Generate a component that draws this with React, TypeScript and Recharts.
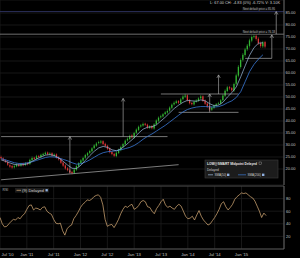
import React from "react";
import {
  ComposedChart,
  Bar,
  Line,
  XAxis,
  YAxis,
  CartesianGrid,
  ReferenceLine,
} from "recharts";

const months = [
  "Jul '10", "Aug '10", "Sep '10", "Oct '10", "Nov '10", "Dec '10",
  "Jan '11", "Feb '11", "Mar '11", "Apr '11", "May '11", "Jun '11",
  "Jul '11", "Aug '11", "Sep '11", "Oct '11", "Nov '11", "Dec '11",
  "Jan '12", "Feb '12", "Mar '12", "Apr '12", "May '12", "Jun '12",
  "Jul '12", "Aug '12", "Sep '12", "Oct '12", "Nov '12", "Dec '12",
  "Jan '13", "Feb '13", "Mar '13", "Apr '13", "May '13", "Jun '13",
  "Jul '13", "Aug '13", "Sep '13", "Oct '13", "Nov '13", "Dec '13",
  "Jan '14", "Feb '14", "Mar '14", "Apr '14", "May '14", "Jun '14",
  "Jul '14", "Aug '14", "Sep '14", "Oct '14", "Nov '14", "Dec '14",
  "Jan '15", "Feb '15", "Mar '15", "Apr '15", "May '15", "Jun '15",
  "Jul '15", "Aug '15", "Sep '15", "Oct '15",
];

const xTickMonths = [
  "Jul '10", "Jan '11", "Jul '11", "Jan '12", "Jul '12",
  "Jan '13", "Jul '13", "Jan '14", "Jul '14", "Jan '15",
];

const priceTicks = [20, 25, 30, 35, 40, 45, 50, 55, 60, 65, 70, 75, 80, 85];
const rsiTicks = [20, 40, 60, 80];

// half-month candles, Jul 2010 .. Jun 2015
const opens = [
  25.0, 24.4, 23.6, 22.8, 21.6, 21.2, 20.7, 21.1, 21.9, 21.4,
  22.2, 21.7, 22.5, 22.1, 23.7, 24.7, 24.3, 25.4, 25.0, 25.8,
  26.2, 26.9, 26.1, 26.6, 25.5, 26.1, 24.9, 24.1, 22.7, 21.5,
  20.3, 19.4, 18.8, 18.4, 19.7, 21.1, 22.5, 23.5, 24.7, 25.7,
  26.7, 27.4, 28.7, 29.7, 30.8, 31.0, 31.6, 30.5, 29.7, 28.5,
  27.1, 26.3, 25.4, 26.7, 27.9, 29.3, 30.3, 31.9, 32.5, 34.0,
  33.1, 35.1, 36.3, 37.7, 38.1, 38.9, 38.5, 37.1, 37.9, 36.9,
  38.7, 40.1, 41.5, 41.9, 42.9, 43.5, 44.3, 45.5, 46.9, 47.5,
  48.3, 47.5, 49.1, 50.1, 50.7, 48.7, 47.5, 46.9, 48.1, 48.5,
  49.5, 50.3, 48.5, 47.3, 46.1, 44.7, 45.5, 46.5, 47.1, 47.3,
  48.7, 50.5, 52.5, 54.1, 53.7, 52.7, 55.5, 58.9, 62.5, 65.5,
  67.5, 69.9, 71.3, 73.5, 75.1, 75.5, 74.3, 72.5, 71.1, 72.9,
];
const closes = [
  24.5, 23.8, 23.0, 21.8, 21.0, 20.6, 21.2, 21.8, 21.3, 22.0,
  21.6, 22.3, 22.0, 23.8, 24.6, 24.2, 25.3, 25.0, 25.9, 26.3,
  26.8, 26.2, 26.5, 25.6, 26.0, 24.8, 24.0, 22.6, 21.4, 20.2,
  19.5, 18.6, 18.3, 19.8, 21.2, 22.4, 23.6, 24.6, 25.8, 26.6,
  27.5, 28.6, 29.8, 30.6, 31.2, 31.5, 30.4, 29.6, 28.4, 27.0,
  26.2, 25.5, 26.8, 28.0, 29.2, 30.4, 31.8, 32.6, 33.8, 33.2,
  35.0, 36.4, 37.6, 38.2, 38.8, 38.4, 37.2, 37.8, 37.0, 38.6,
  40.2, 41.4, 42.0, 42.8, 43.6, 44.2, 45.6, 46.8, 47.6, 48.2,
  47.6, 49.0, 50.2, 50.6, 48.6, 47.4, 47.0, 48.0, 48.6, 49.4,
  50.2, 48.4, 47.2, 46.0, 44.8, 45.6, 46.4, 47.0, 47.4, 48.6,
  50.6, 52.6, 54.0, 53.6, 52.8, 55.4, 59.0, 62.6, 65.4, 67.6,
  69.8, 71.4, 73.6, 75.0, 75.4, 74.2, 72.4, 71.2, 72.8, 71.0,
];
const highs = [
  25.6, 24.9, 24.0, 23.3, 22.1, 21.7, 21.8, 22.4, 22.4, 22.6,
  22.7, 22.9, 23.0, 24.3, 25.2, 25.1, 25.9, 25.9, 26.4, 26.8,
  27.3, 27.3, 27.0, 27.0, 26.5, 26.5, 25.4, 24.5, 23.2, 22.0,
  20.8, 19.9, 19.3, 20.3, 21.7, 22.9, 24.1, 25.1, 26.3, 27.1,
  28.0, 29.1, 30.3, 31.2, 31.8, 32.1, 32.0, 31.0, 30.1, 29.0,
  27.5, 26.8, 27.3, 28.5, 29.7, 30.9, 32.3, 33.2, 34.3, 34.5,
  35.5, 36.9, 38.1, 38.8, 39.4, 39.3, 38.9, 38.3, 38.3, 39.1,
  40.7, 41.9, 42.6, 43.3, 44.1, 44.8, 46.1, 47.3, 48.2, 48.8,
  48.7, 49.6, 50.8, 51.3, 51.1, 49.2, 48.0, 48.5, 49.1, 49.9,
  50.8, 50.7, 49.0, 47.8, 46.5, 46.1, 46.9, 47.5, 48.0, 49.1,
  51.2, 53.2, 54.6, 54.6, 54.2, 56.0, 59.7, 63.3, 66.1, 68.3,
  70.5, 72.1, 74.3, 75.7, 76.1, 76.0, 74.9, 73.1, 73.4, 73.4,
];
const lows = [
  24.0, 23.3, 22.5, 21.3, 20.5, 20.1, 20.2, 20.7, 20.8, 20.9,
  21.1, 21.2, 21.5, 21.7, 23.2, 23.7, 23.8, 24.5, 24.6, 25.3,
  25.7, 25.7, 25.6, 25.1, 25.0, 24.3, 23.5, 22.1, 20.9, 19.7,
  19.0, 18.1, 17.8, 17.9, 19.2, 20.6, 22.0, 23.0, 24.2, 25.2,
  26.2, 26.9, 28.2, 29.2, 30.3, 30.5, 29.9, 29.1, 27.9, 26.5,
  25.7, 25.0, 24.9, 26.2, 27.4, 28.8, 29.8, 31.4, 32.0, 32.7,
  32.6, 34.6, 35.8, 37.2, 37.6, 37.9, 36.7, 36.6, 36.5, 36.4,
  38.2, 39.6, 41.0, 41.4, 42.4, 43.0, 43.8, 45.0, 46.4, 47.0,
  47.1, 47.0, 48.6, 49.6, 48.1, 46.9, 46.5, 46.4, 47.6, 48.0,
  49.0, 47.9, 46.7, 45.5, 44.2, 44.2, 45.0, 46.0, 46.6, 46.8,
  48.2, 50.0, 52.0, 53.0, 52.2, 52.1, 54.9, 58.2, 61.8, 64.8,
  66.8, 69.2, 70.6, 72.8, 74.4, 73.5, 71.7, 70.5, 70.4, 70.3,
];

// monthly readings of the two moving averages
const sma50 = [
  23.8, 23.2, 22.5, 21.9, 21.7, 21.8, 22.2, 23.2, 24.2, 25.0,
  25.8, 26.0, 25.6, 24.6, 23.2, 21.6, 20.3, 20.2, 21.6, 23.6,
  25.6, 27.4, 28.8, 29.4, 29.0, 28.0, 27.6, 28.4, 29.8, 31.4,
  33.0, 35.0, 36.6, 37.4, 37.6, 38.4, 40.0, 41.6, 43.4, 45.2,
  46.6, 47.8, 48.6, 48.4, 48.2, 48.8, 48.4, 47.2, 46.4, 46.6,
  47.8, 50.0, 51.8, 54.2, 58.4, 63.0, 67.4, 70.6, 72.4, 72.6,
];
const sma200 = [
  24.3, 23.8, 23.2, 22.6, 22.3, 22.3, 22.6, 23.0, 23.6, 24.2,
  24.8, 25.1, 25.0, 24.6, 24.0, 23.4, 22.6, 22.0, 22.2, 22.9,
  23.8, 24.9, 26.0, 26.8, 27.2, 27.4, 27.6, 28.0, 28.5, 29.0,
  29.8, 31.0, 32.4, 33.6, 34.6, 35.8, 37.0, 38.2, 39.6, 41.0,
  42.4, 43.8, 44.8, 45.4, 45.8, 46.0, 46.0, 45.9, 45.8, 46.0,
  46.6, 47.6, 48.4, 49.8, 52.2, 56.4, 60.6, 63.6, 65.8, 67.6,
];

const rsiValues = [
  50, 40, 35, 36, 40, 44, 47, 46, 50, 48,
  53, 56, 63, 69, 70, 62, 65, 64, 62, 66,
  67, 60, 57, 55, 47, 41, 40, 41, 29, 22,
  32, 36, 38, 48, 53, 59, 66, 71, 74, 78,
  77, 79, 83, 85, 86, 82, 70, 47, 36, 38,
  39, 34, 40, 47, 56, 63, 68, 66, 69, 71,
  63, 65, 69, 75, 77, 75, 67, 66, 60, 56,
  64, 69, 75, 79, 70, 66, 68, 65, 63, 68,
  71, 68, 60, 52, 48, 49, 52, 46, 54, 61,
  52, 46, 42, 38, 40, 45, 50, 56, 63, 72,
  75, 67, 62, 66, 71, 79, 83, 86, 89, 88,
  89, 86, 83, 81, 76, 68, 60, 50, 57, 53,
];

// drawn support / resistance levels and measured-move arrows
const levelLines = [
  { from: "Jul '10 a", to: "Aug '13 b", price: 33.5 },
  { from: "Jul '13 a", to: "Dec '14 b", price: 51.25 },
  { from: "Nov '13 a", to: "Dec '14 b", price: 43.6 },
  { from: "Feb '15 a", to: "Aug '15 a", price: 66.1 },
];
const trendLine = { from: "Jul '10 a", fromPrice: 15.5, to: "Nov '13 a", toPrice: 21.8 };
const arrows = [
  { at: "Oct '11 b", from: 18.2, to: 33.5 },
  { at: "Oct '12 b", from: 33.5, to: 49.4 },
  { at: "Jun '14 a", from: 43.6, to: 51.25 },
  { at: "Aug '14 a", from: 51.25, to: 59.2 },
  { at: "Aug '15 a", from: 66.1, to: 75.9 },
  { at: "Sep '15 a", from: 76.18, to: 85.6 },
];
const targets = [
  { price: 76.18, text: "Next default price = 76.18", color: "#8a8a8a" },
  { price: 85.6, text: "Next default price = 85.95", color: "#34386e" },
];

const FONT = "'Liberation Sans', Arial, sans-serif";
const GREEN = "#33b533";
const RED = "#d93636";
const AXIS_TEXT = "#c4c4c4";
const GRID = "#1d1d1d";

const periods = months.flatMap((m) => [`${m} a`, `${m} b`]);
const xTicks = xTickMonths.map((m) => `${m} a`);

const data = periods.map((period, i) => ({
  period,
  open: opens[i],
  close: closes[i],
  high: highs[i],
  low: lows[i],
  fast: i % 2 === 0 ? sma50[i / 2] : undefined,
  slow: i % 2 === 0 ? sma200[i / 2] : undefined,
  rsi: rsiValues[i],
}));

const Candle = (props: any) => {
  const { x, y, width, height, payload } = props;
  if (!payload || payload.high == null) return null;
  const { open, close, high, low } = payload;
  const top = Math.min(y, y + height);
  const h = Math.abs(height);
  const k = h / (high - low);
  const color = close >= open ? GREEN : RED;
  const bodyTop = top + (high - Math.max(open, close)) * k;
  const bodyH = Math.max(0.7, Math.abs(close - open) * k);
  const cx = x + width / 2;
  const bw = 1.3;
  return (
    <g>
      <line x1={cx} x2={cx} y1={top} y2={top + h} stroke={color} strokeWidth={0.5} />
      <rect x={cx - bw / 2} y={bodyTop} width={bw} height={bodyH} fill={color} />
    </g>
  );
};

const Arrow = (props: any) => {
  const { x1, y1, x2, y2 } = props;
  return (
    <g>
      <line x1={x1} y1={y1} x2={x2} y2={y2} stroke="#b8b8b8" strokeWidth={0.6} />
      <path
        d={`M${x2 - 1.7},${y2 + 3} L${x2},${y2} L${x2 + 1.7},${y2 + 3}`}
        fill="none"
        stroke="#b8b8b8"
        strokeWidth={0.6}
      />
    </g>
  );
};

const targetLabel = (text: string) => (props: any) => {
  const { viewBox } = props;
  if (!viewBox) return null;
  const right = viewBox.x + viewBox.width - 9;
  return (
    <g>
      <rect x={right - 33} y={viewBox.y - 4.4} width={33} height={3.8} fill="#0b0b0b" />
      <text
        x={right}
        y={viewBox.y - 1.3}
        textAnchor="end"
        fontSize={3}
        fill="#bdbdbd"
        fontFamily={FONT}
        textLength={32}
        lengthAdjust="spacingAndGlyphs"
      >
        {text}
      </text>
    </g>
  );
};

const MonthTick = (props: any) => {
  const { x, y, payload } = props;
  const first = x < 8;
  return (
    <text
      x={first ? 1.5 : x}
      y={y}
      dy={5.2}
      textAnchor={first ? "start" : "middle"}
      fontSize={4.2}
      fill={AXIS_TEXT}
      fontFamily={FONT}
    >
      {String(payload.value).slice(0, -2)}
    </text>
  );
};

const PriceChart = () => (
  <ComposedChart
    width={300}
    height={185}
    data={data}
    margin={{ top: 0, right: 0, bottom: 0, left: 0 }}
    barCategoryGap={0}
  >
    <CartesianGrid stroke={GRID} strokeWidth={0.8} />
    <XAxis
      dataKey="period"
      ticks={xTicks}
      interval={0}
      tick={false}
      tickLine={false}
      height={0}
      axisLine={{ stroke: "#555" }}
    />
    <YAxis
      orientation="right"
      width={16}
      domain={[13.33, 90.42]}
      allowDataOverflow
      ticks={priceTicks}
      interval={0}
      tickFormatter={(v: number) => v.toFixed(2)}
      tick={{ fill: AXIS_TEXT, fontSize: 4, fontFamily: FONT }}
      tickSize={0}
      tickMargin={1.5}
      axisLine={{ stroke: "#666" }}
    />
    {targets.map((t) => (
      <ReferenceLine
        key={t.price}
        y={t.price}
        stroke={t.color}
        strokeWidth={0.8}
        label={targetLabel(t.text)}
      />
    ))}
    {levelLines.map((l) => (
      <ReferenceLine
        key={`${l.from}-${l.price}`}
        segment={[
          { x: l.from, y: l.price },
          { x: l.to, y: l.price },
        ]}
        stroke="#a8a8a8"
        strokeWidth={0.7}
      />
    ))}
    <ReferenceLine
      segment={[
        { x: trendLine.from, y: trendLine.fromPrice },
        { x: trendLine.to, y: trendLine.toPrice },
      ]}
      stroke="#b0b0b0"
      strokeWidth={0.7}
    />
    <Line
      dataKey="slow"
      stroke="#3a78d6"
      strokeWidth={0.8}
      dot={false}
      activeDot={false}
      connectNulls
      isAnimationActive={false}
    />
    <Line
      dataKey="fast"
      stroke="#9dbde0"
      strokeWidth={0.7}
      dot={false}
      activeDot={false}
      connectNulls
      isAnimationActive={false}
    />
    <Bar
      dataKey={(d: any) => (d.high == null ? null : [d.low, d.high])}
      shape={Candle}
      activeBar={false}
      isAnimationActive={false}
    />
    {arrows.map((a) => (
      <ReferenceLine
        key={a.at}
        segment={[
          { x: a.at, y: a.from },
          { x: a.at, y: a.to },
        ]}
        shape={Arrow}
      />
    ))}
  </ComposedChart>
);

const RsiChart = () => (
  <ComposedChart
    width={300}
    height={73}
    data={data}
    margin={{ top: 1, right: 0, bottom: 0, left: 0 }}
  >
    <CartesianGrid stroke={GRID} strokeWidth={0.8} />
    <XAxis
      dataKey="period"
      ticks={xTicks}
      interval={0}
      tick={MonthTick}
      tickLine={false}
      tickSize={0}
      height={9}
      axisLine={{ stroke: "#555" }}
    />
    <YAxis
      orientation="right"
      width={16}
      domain={[0, 100]}
      ticks={rsiTicks}
      interval={0}
      tick={{ fill: AXIS_TEXT, fontSize: 4, fontFamily: FONT }}
      tickSize={0}
      tickMargin={2}
      axisLine={{ stroke: "#666" }}
    />
    <ReferenceLine y={100} stroke="#555" strokeWidth={0.8} />
    <Line
      dataKey="rsi"
      stroke="#dcb07a"
      strokeWidth={0.7}
      dot={false}
      activeDot={false}
      isAnimationActive={false}
    />
  </ComposedChart>
);

const Overlay = () => (
  <svg
    width={300}
    height={258}
    style={{ position: "absolute", left: 0, top: 0, pointerEvents: "none" }}
    fontFamily={FONT}
  >
    <text x={280} y={4} textAnchor="end" fontSize={3.2} fill="#cfcfcf" textLength={70} lengthAdjust="spacingAndGlyphs">
      L: 67.00 CH: -4.83 (0%) -6.72% V: 3.10K
    </text>
    <rect x={205} y={160} width={73} height={18} fill="#1c1c1c" stroke="#3c3c3c" strokeWidth={0.6} />
    <text x={207} y={164.5} fontSize={3.3} fontWeight="bold" fill="#e6e6e6" textLength={50} lengthAdjust="spacingAndGlyphs">
      LOW@SMART Midpoint Delayed
    </text>
    <rect x={259} y={162} width={2.2} height={2.2} fill="none" stroke="#aaa" strokeWidth={0.4} />
    <text x={207} y={170.5} fontSize={3.2} fill="#cfcfcf">
      Delayed
    </text>
    <line x1={208} y1={174.8} x2={213} y2={174.8} stroke="#9dbde0" strokeWidth={0.7} />
    <text x={214.5} y={176} fontSize={3} fill="#cfcfcf">
      SMA(50)
    </text>
    <rect x={227} y={173.6} width={2.4} height={2.4} fill="#8db0e0" />
    <line x1={238} y1={174.8} x2={246} y2={174.8} stroke="#3a78d6" strokeWidth={0.7} />
    <text x={247.5} y={176} fontSize={3} fill="#cfcfcf">
      SMA(200)
    </text>
    <rect x={262} y={173.6} width={2.4} height={2.4} fill="#8db0e0" />
    <text x={2.5} y={191.3} fontSize={3.4} fill="#bdbdbd">
      RSI
    </text>
    <rect x={15} y={188} width={34} height={4.6} fill="#1a1a1a" />
    <line x1={16.5} y1={190.3} x2={21} y2={190.3} stroke="#dcb07a" strokeWidth={0.7} />
    <text x={22} y={191.5} fontSize={3.2} fill="#cfcfcf" textLength={22} lengthAdjust="spacingAndGlyphs">
      (9) Delayed
    </text>
    <rect x={45.5} y={189.1} width={2.3} height={2.3} fill="#8db0e0" />
  </svg>
);

export default function App() {
  return (
    <div
      style={{
        position: "absolute",
        left: 0,
        top: 0,
        width: 300,
        height: 258,
        background: "#000",
        overflow: "hidden",
      }}
    >
      <div style={{ position: "absolute", left: 0, top: 0 }}>
        <PriceChart />
      </div>
      <div style={{ position: "absolute", left: 0, top: 185 }}>
        <RsiChart />
      </div>
      <Overlay />
    </div>
  );
}
